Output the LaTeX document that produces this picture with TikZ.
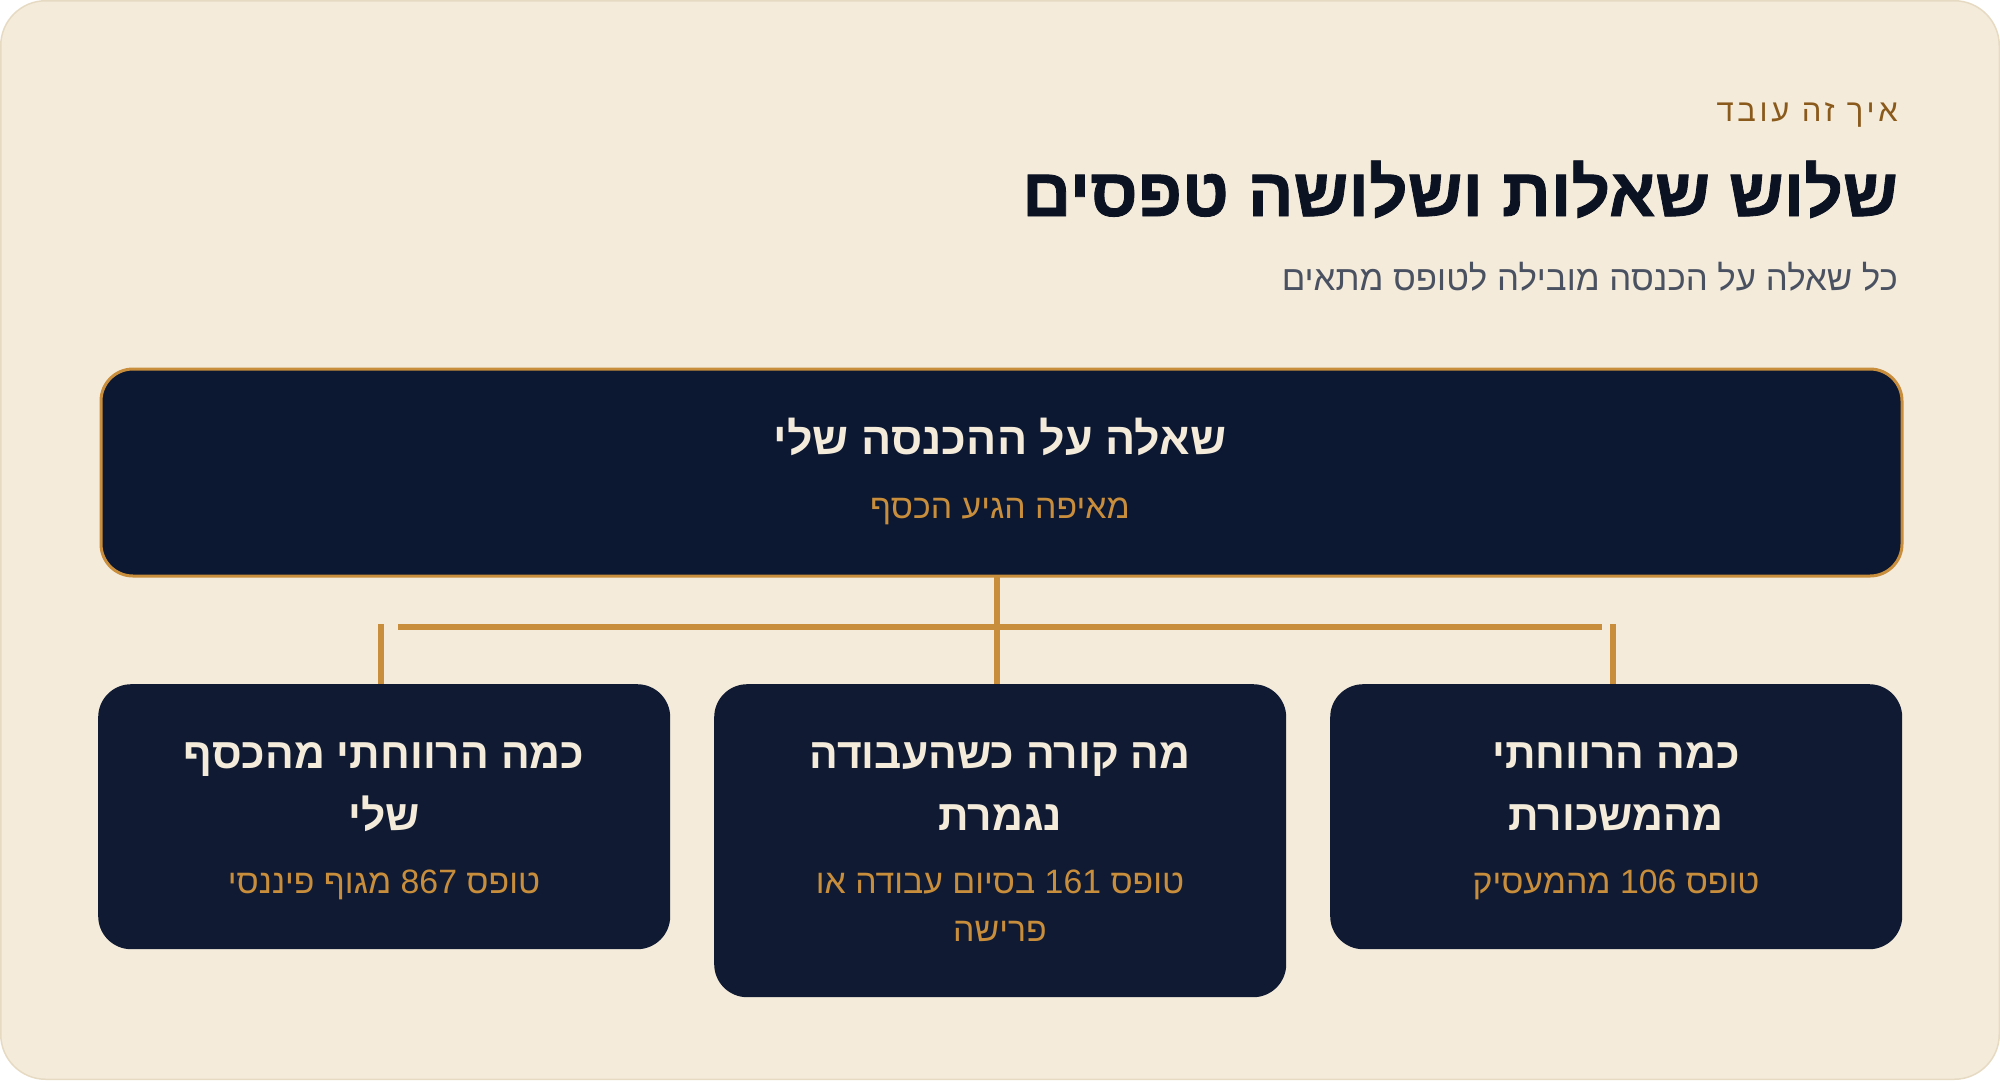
\documentclass[tikz,border=0pt]{standalone}
\usepackage{fontspec}
\TeXXeTstate=1
\newfontfamily\he[Script=Hebrew]{Liberation Sans}
\newfontfamily\heheavy[Script=Hebrew,FakeBold=1.2]{Liberation Sans Bold}
\newfontfamily\hesp[Script=Hebrew,LetterSpace=12]{Liberation Sans}
\definecolor{bg}{HTML}{F4EBDB}
\definecolor{bgline}{HTML}{E6DAC2}
\definecolor{topnavy}{HTML}{0C1731}
\definecolor{boxnavy}{HTML}{101B33}
\definecolor{gold}{HTML}{C98E3B}
\definecolor{cream}{HTML}{F4EBDB}
\definecolor{ink}{HTML}{0B1222}
\definecolor{eyebrown}{HTML}{8A5A1C}
\definecolor{subgray}{HTML}{4A5262}
\tikzset{
  topbox/.style={draw=gold, line width=3pt, fill=topnavy, rounded corners=32pt,
    minimum width=1801pt, minimum height=207pt, inner sep=0pt, anchor=north west},
  lowbox/.style={fill=boxnavy, rounded corners=33pt, minimum width=572pt,
    inner sep=0pt, anchor=north west},
  conn/.style={draw=gold, line width=6pt},
  txt/.style={inner sep=0pt, anchor=base},
  boxtitle/.style={txt, text=cream, font=\he\bfseries\fontsize{42.6}{50}\selectfont},
  boxsub/.style={txt, text=gold, font=\he\fontsize{33.8}{40}\selectfont}
}
\begin{document}
\begin{tikzpicture}[x=1pt,y=-1pt]
\useasboundingbox (0,0) rectangle (2000,1080);
\fill[white] (0,0) rectangle (2000,1080);
\draw[fill=bg, draw=bgline, line width=1.5pt, rounded corners=45pt] (0.75,0.75) rectangle (1999.25,1079.25);

% header
\node[txt, anchor=base east, text=eyebrown, font=\hesp\fontsize{31}{36}\selectfont] (eyebrow) at (1898,121) {\beginR איך זה עובד\endR};
\node[txt, anchor=base east, text=ink, font=\heheavy\fontsize{68}{80}\selectfont] (title) at (1898,216) {\beginR שלוש שאלות ושלושה טפסים\endR};
\node[txt, anchor=base east, text=subgray, font=\he\fontsize{34.8}{42}\selectfont] (subtitle) at (1898,290) {\beginR כל שאלה על הכנסה מובילה לטופס מתאים\endR};

% top box
\node[topbox] (top) at (99.5,367.5) {};
\node[boxtitle, font=\he\bfseries\fontsize{44.8}{52}\selectfont] (toptitle) at (1000,454) {\beginR שאלה על ההכנסה שלי\endR};
\node[boxsub] (topsub) at (1000,518) {\beginR מאיפה הגיע הכסף\endR};

% lower boxes
\node[lowbox, minimum height=265pt] (left) at (98,684) {};
\node[lowbox, minimum height=313pt] (mid) at (714,684) {};
\node[lowbox, minimum height=265pt] (right) at (1330,684) {};

\node[boxtitle] (lefta) at (384,768) {\beginR כמה הרווחתי מהכסף\endR};
\node[boxtitle] (leftb) at (384,830) {\beginR שלי\endR};
\node[boxsub] (lefts) at (384,893) {\beginR טופס 867 מגוף פיננסי\endR};

\node[boxtitle] (mida) at (1000,768) {\beginR מה קורה כשהעבודה\endR};
\node[boxtitle] (midb) at (1000,830) {\beginR נגמרת\endR};
\node[boxsub] (mids) at (1000,893) {\beginR טופס 161 בסיום עבודה או\endR};
\node[boxsub] (midt) at (1000,941) {\beginR פרישה\endR};

\node[boxtitle] (righta) at (1616,768) {\beginR כמה הרווחתי\endR};
\node[boxtitle] (rightb) at (1616,830) {\beginR מהמשכורת\endR};
\node[boxsub] (rights) at (1616,893) {\beginR טופס 106 מהמעסיק\endR};

% connectors
\coordinate (hl) at (398,627);
\coordinate (hr) at (1602,627);
\coordinate (lt) at (381,624);
\coordinate (rt) at (1613,624);
\coordinate (ct) at (997,576);
\draw[conn] (ct) -- (ct |- mid.north);
\draw[conn] (hl) -- (hr);
\draw[conn] (lt) -- (lt |- left.north);
\draw[conn] (rt) -- (rt |- right.north);
\end{tikzpicture}
\end{document}
